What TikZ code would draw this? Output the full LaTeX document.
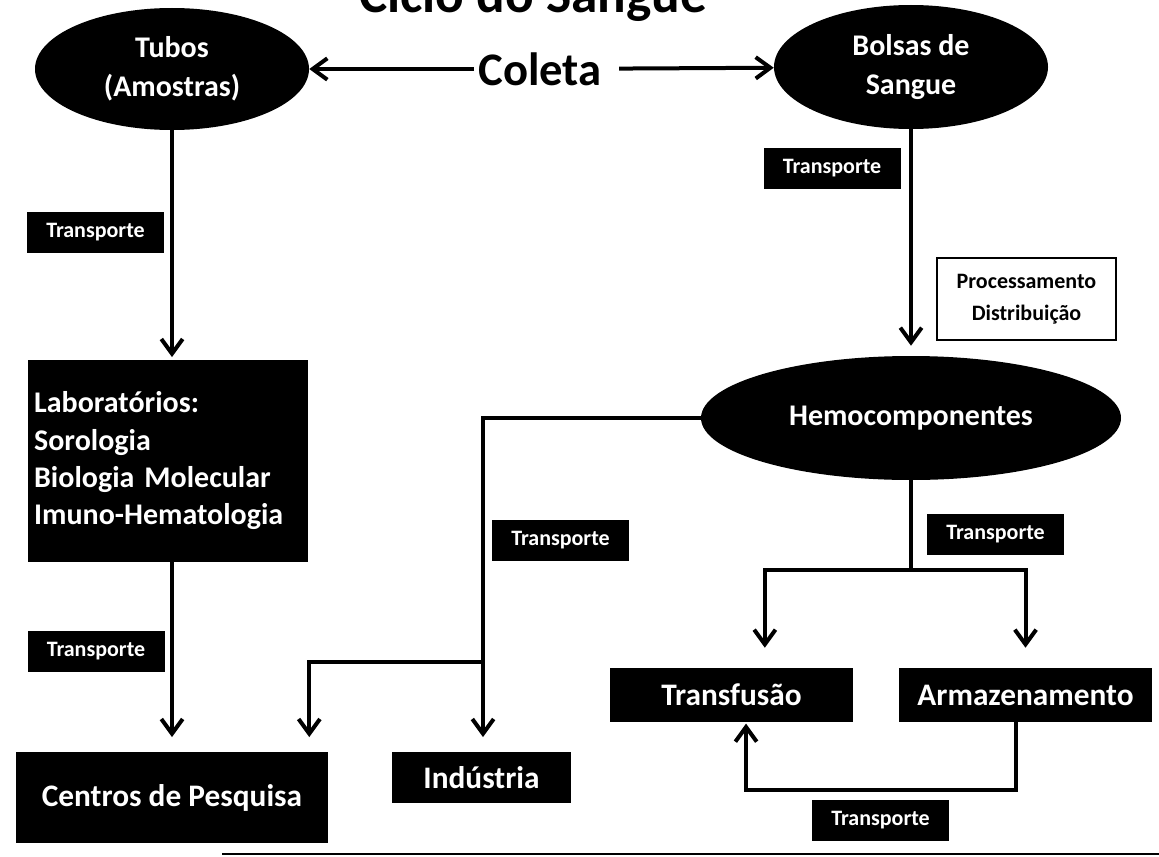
\documentclass[tikz,border=0pt]{standalone}
\usepackage{fontspec}
\setmainfont{Carlito}
\usetikzlibrary{arrows.meta,shapes.geometric}

\tikzset{
  arr/.style={line width=3pt, -{Straight Barb[length=11pt,width=16pt,line width=3pt]}},
  blackoval/.style={ellipse, fill=black, text=white, inner sep=0pt, align=center,
    font=\bfseries\fontsize{22.5}{29}\selectfont},
  blackbox/.style={rectangle, fill=black, text=white, inner sep=0pt, align=center,
    font=\bfseries\fontsize{23.5}{28}\selectfont},
  tag/.style={rectangle, fill=black, text=white, inner sep=0pt,
    minimum width=102.75pt, minimum height=30.75pt,
    font=\bfseries\fontsize{16.5}{20}\selectfont},
}

\begin{document}
\begin{tikzpicture}[x=0.75pt,y=0.75pt,yscale=-1,xscale=1]
\path[use as bounding box] (0,0) rectangle (1159,856);

% title, cut by the top edge
\node (title) [anchor=base, inner sep=0pt, font=\bfseries\fontsize{40}{48}\selectfont] at (533,13) {Ciclo do Sangue};

% collection
\node (coleta) [inner ysep=0pt, inner xsep=3pt, font=\bfseries\fontsize{35}{40}\selectfont] at (540,69) {Coleta};
\node (tubos) [blackoval, minimum width=205.5pt, minimum height=91.5pt] at (172,69) {Tubos\\(Amostras)};
\node (bolsas) [blackoval, minimum width=205.5pt, minimum height=93pt] at (911,67) {Bolsas de\\Sangue};

% left branch
\node (lab) [blackbox, align=left, text width=200pt, inner xsep=5pt, minimum height=151.5pt,
  font=\bfseries\fontsize{22.5}{28}\selectfont] at (167.5,461)
  {Laboratórios:\\Sorologia\\Biologia Molecular\\Imuno-Hematologia};
\node (centros) [blackbox, minimum width=234pt, minimum height=68.25pt] at (172,797.5) {Centros de Pesquisa};

% right branch
\node (proc) [draw, line width=1.5pt, fill=white, inner sep=0pt, align=center,
  minimum width=134.25pt, minimum height=61.5pt, font=\bfseries\fontsize{16.5}{24}\selectfont]
  at (1026.5,299) {Processamento\\Distribuição};
\node (hemo) [blackoval, minimum width=315pt, minimum height=93pt] at (911,418) {Hemocomponentes};
\node (industria) [blackbox, minimum width=134.25pt, minimum height=38.25pt] at (481.5,777.5) {Indústria};
\node (transfusao) [blackbox, minimum width=182.25pt, minimum height=40.5pt] at (731.5,695) {Transfusão};
\node (armazenamento) [blackbox, minimum width=189.75pt, minimum height=40.5pt] at (1025.5,695) {Armazenamento};

% transport tags
\node (t1) [tag] at (95.5,232) {Transporte};
\node (t2) [tag] at (832,168.5) {Transporte};
\node (t3) [tag] at (560.5,540) {Transporte};
\node (t4) [tag] at (96,651) {Transporte};
\node (t5) [tag] at (995.5,534) {Transporte};
\node (t6) [tag] at (880.5,820) {Transporte};

% junction points
\coordinate (split) at (483,662);
\coordinate (fork) at (911,570);
\coordinate (back) at (880,790);

% connectors
\draw[arr] (coleta) -- (tubos);
\draw[arr, shorten <=10pt] (coleta) -- (bolsas);
\draw[arr, shorten >=2pt] (tubos.south) -- (tubos.south |- lab.north);
\draw[arr, shorten >=11pt] (lab.south -| centros.north) -- (centros.north);
\draw[arr, shorten >=7.5pt] (bolsas.south) -- (hemo.north);
\draw[arr, shorten >=11pt] (hemo.west) -| (split) -- (split |- industria.north);
\draw[arr, shorten >=11pt] (split) -| ([xshift=-14.25pt]centros.north east);
\draw[line width=3pt] (hemo.south) -- (fork);
\draw[arr, shorten >=15pt] (fork) -| ([xshift=25pt]transfusao.north);
\draw[arr, shorten >=15pt] (fork) -| (armazenamento.north);
\draw[arr, shorten >=1pt] ([xshift=-7.1pt]armazenamento.south) |- (back) -| ([xshift=10.9pt]transfusao.south);

% page rule at the bottom
\draw[line width=1.5pt] (222,854) -- (1159,854);

\end{tikzpicture}
\end{document}
